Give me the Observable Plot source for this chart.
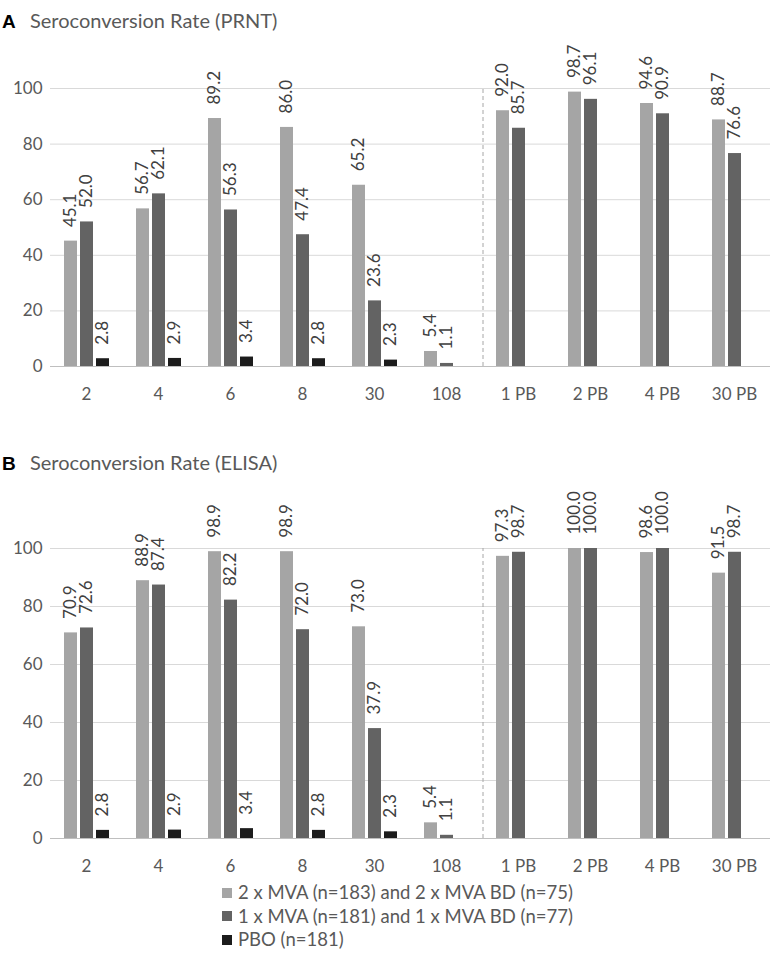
<!DOCTYPE html>
<html><head><meta charset="utf-8">
<script src="https://cdn.jsdelivr.net/npm/d3@7"></script>
<script src="https://cdn.jsdelivr.net/npm/@observablehq/plot@0.6"></script>
<style>
body{margin:0;background:#fff;font-family:Lato,sans-serif;color:#595959}
#page{position:relative;width:774px;height:956px;overflow:hidden;background:#fff}
.title{position:absolute;left:0;height:24px;font-size:20px;line-height:24px;color:#595959;white-space:nowrap}
.title b{font-family:"Liberation Sans",Arial,sans-serif;color:#000;font-size:19px;display:inline-block;width:28px;padding-left:2px}
.panel{position:absolute;left:0}
.panel svg{overflow:visible}
.legend{position:absolute;left:222px;top:881px;font-size:18.5px;color:#595959}
.legend div{height:23.5px;line-height:23.5px;display:flex;align-items:center;white-space:nowrap}
.legend span.sw{width:10px;height:10px;margin-right:6px;display:inline-block}
</style></head>
<body>
<div id="page">
  <div class="title" style="top:8px"><b>A</b>Seroconversion Rate (PRNT)</div>
  <div class="panel" id="panelA" style="top:40px"></div>
  <div class="title" style="top:450px"><b>B</b>Seroconversion Rate (ELISA)</div>
  <div class="panel" id="panelB" style="top:500px"></div>
  <div class="legend" id="legend"></div>
</div>
<script>
const categories = ["2","4","6","8","30","108","1 PB","2 PB","4 PB","30 PB"];
const seriesNames = [
  "2 x MVA (n=183) and 2 x MVA BD (n=75)",
  "1 x MVA (n=181) and 1 x MVA BD (n=77)",
  "PBO (n=181)"
];
const seriesColors = ["#a5a5a5", "#636363", "#1c1c1c"];
const yTicks = [0, 20, 40, 60, 80, 100];

// Panel A: PRNT
const prntTwoDose = [45.1, 56.7, 89.2, 86.0, 65.2, 5.4, 92.0, 98.7, 94.6, 88.7];
const prntOneDose = [52.0, 62.1, 56.3, 47.4, 23.6, 1.1, 85.7, 96.1, 90.9, 76.6];
const prntPlacebo = [2.8, 2.9, 3.4, 2.8, 2.3, null, null, null, null, null];

// Panel B: ELISA
const elisaTwoDose = [70.9, 88.9, 98.9, 98.9, 73.0, 5.4, 97.3, 100.0, 98.6, 91.5];
const elisaOneDose = [72.6, 87.4, 82.2, 72.0, 37.9, 1.1, 98.7, 100.0, 100.0, 98.7];
const elisaPlacebo = [2.8, 2.9, 3.4, 2.8, 2.3, null, null, null, null, null];

const separatorAfter = "1 PB";

function rows(lists) {
  const out = [];
  lists.forEach((vals, s) => vals.forEach((v, i) => {
    if (v != null) out.push({cat: categories[i], series: seriesNames[s], value: v});
  }));
  return out;
}

function chart(data, {height, marginTop, marginBottom}) {
  const W = 774, ML = 50, MR = 4;
  const step = (W - ML - MR) / categories.length;
  const xb = d3.scaleBand(seriesNames, [0, step]).paddingInner(0.2).paddingOuter(0.85);
  const sepOffset = -(xb(seriesNames[0]) + xb.bandwidth() / 2);
  return Plot.plot({
    width: W, height, marginLeft: ML, marginRight: MR, marginTop, marginBottom,
    style: {fontFamily: "Lato, sans-serif", fontSize: "17px", color: "#595959", background: "transparent", overflow: "visible"},
    fx: {domain: categories, padding: 0, label: null, tickSize: 0, tickPadding: 21, axis: "bottom"},
    x: {domain: seriesNames, paddingInner: 0.2, paddingOuter: 0.85, axis: null},
    y: {domain: [0, 100], ticks: yTicks, tickSize: 0, tickPadding: 8, label: null},
    color: {domain: seriesNames, range: seriesColors},
    marks: [
      Plot.ruleY(yTicks.filter(t => t > 0), {stroke: "#d9d9d9"}),
      Plot.ruleY([0], {stroke: "#bfbfbf", strokeWidth: 1.2}),
      Plot.barY(data, {fx: "cat", x: "series", y: "value", fill: "series"}),
      Plot.text(data, {fx: "cat", x: "series", y: "value", text: d => d.value.toFixed(1),
        rotate: -90, textAnchor: "start", dy: -14, fill: "#404040", fontSize: 17}),
      Plot.ruleX([{cat: separatorAfter, series: seriesNames[0]}], {fx: "cat", x: "series",
        y1: 0, y2: 100, dx: sepOffset, stroke: "#a6a6a6", strokeDasharray: "4,3"})
    ]
  });
}

document.getElementById("panelA").append(
  chart(rows([prntTwoDose, prntOneDose, prntPlacebo]), {height: 376, marginTop: 48, marginBottom: 50})
);
document.getElementById("panelB").append(
  chart(rows([elisaTwoDose, elisaOneDose, elisaPlacebo]), {height: 378, marginTop: 48, marginBottom: 40})
);

const legend = document.getElementById("legend");
seriesNames.forEach((name, i) => {
  const row = document.createElement("div");
  const sw = document.createElement("span");
  sw.className = "sw";
  sw.style.background = seriesColors[i];
  row.append(sw, document.createTextNode(name));
  legend.append(row);
});
</script>
</body></html>
